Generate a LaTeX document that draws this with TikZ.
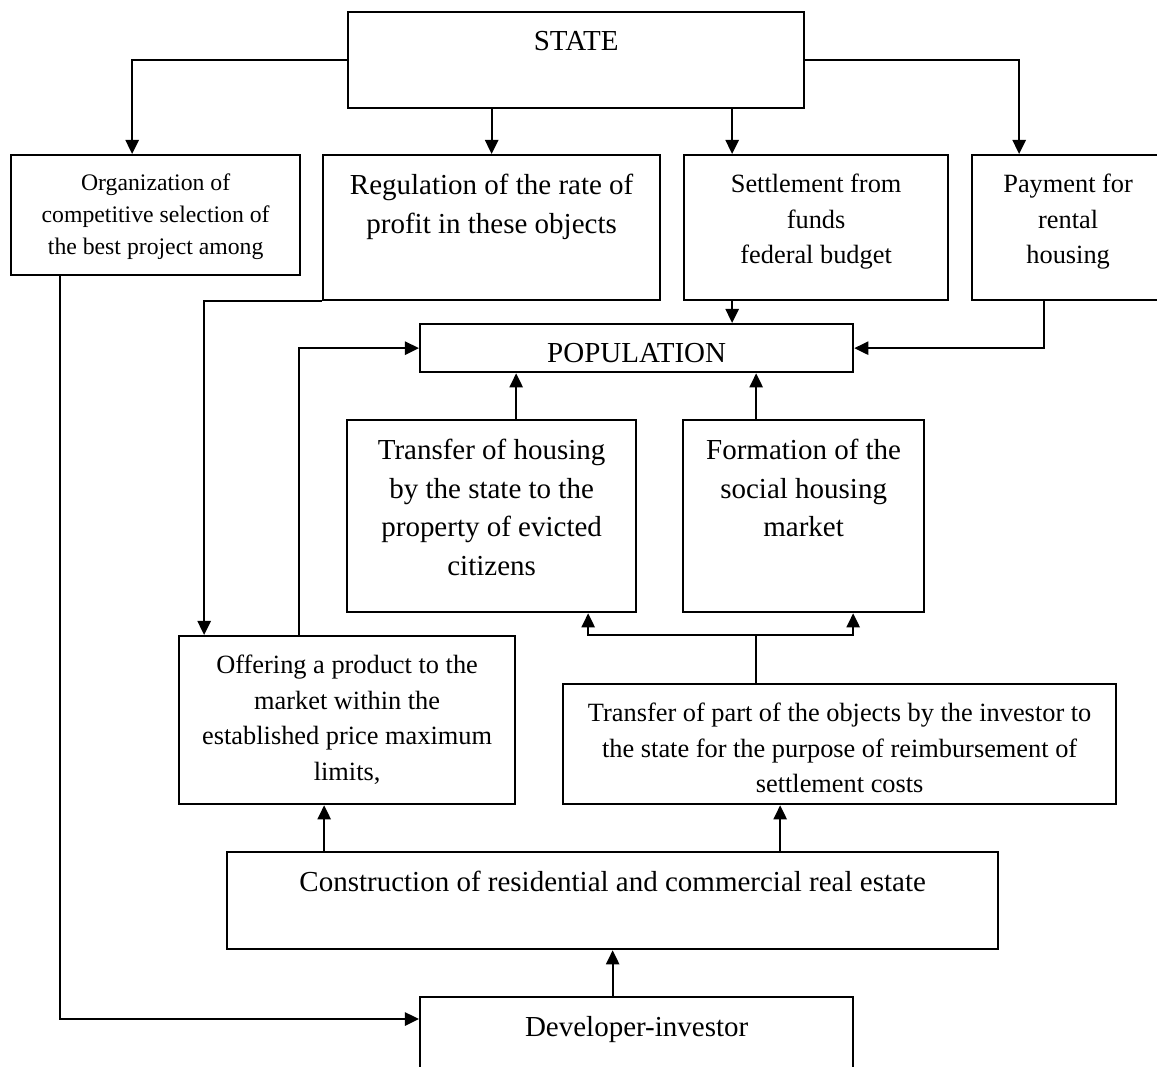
\documentclass[tikz,border=0pt]{standalone}
\usepackage{fontspec}
\setmainfont{Liberation Serif}
\usetikzlibrary{arrows.meta}

\tikzset{
  box/.style={draw,line width=1.3pt,anchor=north west,inner sep=0pt},
  txt/.style={anchor=north,align=center,inner sep=0pt,yshift=-0.38cm},
  bigtxt/.style={font=\fontsize{16.5}{22}\selectfont},
  medtxt/.style={font=\fontsize{15}{20.3}\selectfont},
  smalltxt/.style={font=\fontsize{13.5}{18}\selectfont},
}

\begin{document}
\begin{tikzpicture}[->,>={Triangle[width=7.5pt,length=8pt]},line width=1.2pt]

  \clip[use as bounding box] (0,0) rectangle (23.14,-21.32);

  \node[box,minimum width=9.12cm,minimum height=1.92cm,label={[txt,bigtxt]north:STATE}] (state) at (6.94,-0.22) {};
  \node[box,minimum width=5.78cm,minimum height=2.40cm,label={[txt,smalltxt]north:Organization of\\competitive selection of\\the best project among}] (org) at (0.20,-3.08) {};
  \node[box,minimum width=6.74cm,minimum height=2.90cm,label={[txt,bigtxt]north:Regulation of the rate of\\profit in these objects}] (reg) at (6.44,-3.08) {};
  \node[box,minimum width=5.28cm,minimum height=2.90cm,label={[txt,medtxt]north:Settlement from\\funds\\federal budget}] (settle) at (13.66,-3.08) {};
  \node[box,minimum width=3.84cm,minimum height=2.90cm,label={[txt,medtxt]north:Payment for\\rental\\housing}] (pay) at (19.42,-3.08) {};
  \node[box,minimum width=8.66cm,minimum height=0.96cm,label={[txt,bigtxt]north:POPULATION}] (pop) at (8.38,-6.46) {};
  \node[box,minimum width=5.78cm,minimum height=3.84cm,label={[txt,bigtxt]north:Transfer of housing\\by the state to the\\property of evicted\\citizens}] (trh) at (6.92,-8.38) {};
  \node[box,minimum width=4.82cm,minimum height=3.84cm,label={[txt,bigtxt]north:Formation of the\\social housing\\market}] (form) at (13.64,-8.38) {};
  \node[box,minimum width=6.72cm,minimum height=3.36cm,label={[txt,medtxt]north:Offering a product to the\\market within the\\established price maximum\\limits,}] (offer) at (3.56,-12.70) {};
  \node[box,minimum width=11.06cm,minimum height=2.40cm,label={[txt,medtxt]north:Transfer of part of the objects by the investor to\\the state for the purpose of reimbursement of\\settlement costs}] (tpart) at (11.24,-13.66) {};
  \node[box,minimum width=15.42cm,minimum height=1.94cm,label={[txt,bigtxt]north:Construction of residential and commercial real estate}] (cons) at (4.52,-17.02) {};
  \node[box,minimum width=8.66cm,minimum height=2.00cm,label={[txt,bigtxt]north:Developer-investor}] (dev) at (8.38,-19.92) {};

  \draw (state.west) -| ([xshift=-0.47cm]org.north);
  \draw (state.south -| reg.north) -- (reg.north);
  \draw ([xshift=-1.68cm]settle.north |- state.south) -- ([xshift=-1.68cm]settle.north);
  \draw (state.east) -| ([xshift=-0.98cm]pay.north);
  \draw ([xshift=-1.68cm]settle.south) -- ([xshift=-1.68cm]settle.south |- pop.north);
  \draw ([xshift=-0.48cm]pay.south) |- (pop.east);
  \draw (reg.south west) -| ([xshift=-2.86cm]offer.north);
  \draw ([xshift=-0.96cm]offer.north) |- (pop.west);
  \draw ([xshift=0.49cm]trh.north) -- ([xshift=0.49cm]trh.north |- pop.south);
  \draw ([xshift=-0.95cm]form.north) -- ([xshift=-0.95cm]form.north |- pop.south);
  \coordinate (fork) at ([xshift=-1.67cm,yshift=0.96cm]tpart.north);
  \draw[-] ([xshift=-1.67cm]tpart.north) -- (fork);
  \draw (fork) -| ([xshift=1.93cm]trh.south);
  \draw (fork) -| ([xshift=0.99cm]form.south);
  \draw ([xshift=-0.46cm]offer.south |- cons.north) -- ([xshift=-0.46cm]offer.south);
  \draw ([xshift=-1.19cm]tpart.south |- cons.north) -- ([xshift=-1.19cm]tpart.south);
  \draw (cons.south |- dev.north) -- (cons.south);
  \draw ([xshift=-1.91cm]org.south) |- ([yshift=-0.46cm]dev.north west);

\end{tikzpicture}
\end{document}
